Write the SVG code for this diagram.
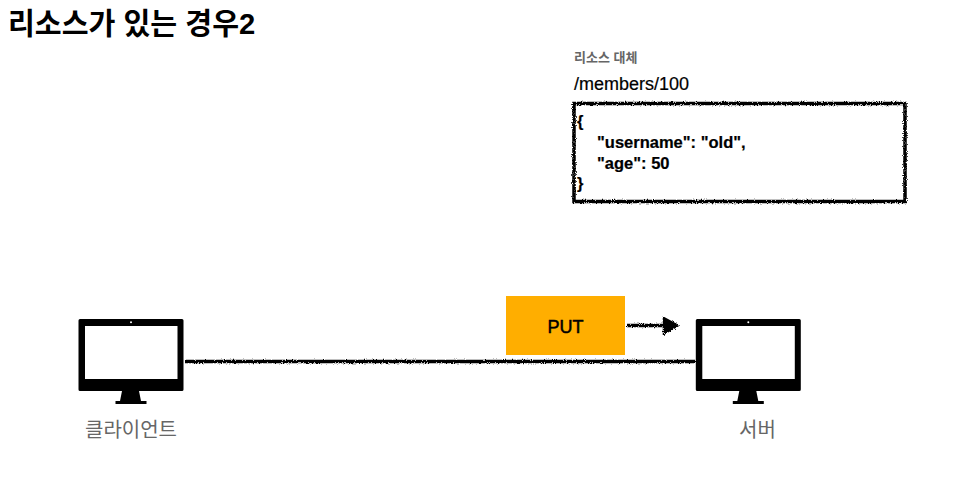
<svg xmlns="http://www.w3.org/2000/svg" width="978" height="485" viewBox="0 0 978 485">
<style>
text{font-family:"Liberation Sans","Noto Sans CJK KR",sans-serif}
.b{font-weight:700;fill:#000}
.lbl{font-size:20px;fill:#666;text-anchor:middle}
.code{font-size:16.500px;font-weight:700;fill:#000;stroke:#000;stroke-width:.2px}
</style>
<defs>
<filter id="rough2" filterUnits="userSpaceOnUse" x="0" y="0" width="978" height="485">
<feTurbulence type="fractalNoise" baseFrequency="0.9" numOctaves="3" seed="5"/>
<feDisplacementMap in="SourceGraphic" scale="3.200" xChannelSelector="R" yChannelSelector="G"/>
</filter>
<g id="monitor">
<path fill="#000" fill-rule="evenodd" d="M80 319H182a1.500 1.500 0 0 1 1.500 1.500V389.500a1.500 1.500 0 0 1-1.500 1.500H80a1.500 1.500 0 0 1-1.500-1.500V320.500a1.500 1.500 0 0 1 1.500-1.500ZM85 326V379H177.500V326Z"/>
<path fill="#000" d="M122 391H139L141 401H146.500V404H115.500V401H120Z"/>
<circle cx="131" cy="322.300" r="1" fill="#fff"/>
</g>
</defs>
<rect width="978" height="485" fill="#fff"/>
<g id="title"><text class="b" x="8" y="34" font-size="29.200">리소스가 있는 경우2</text></g>
<g id="connectors" fill="none" stroke="#000" filter="url(#rough2)">
<path stroke-width="3.500" d="M185 361.500H695"/>
<path stroke-width="3.500" d="M627 325.500H666"/>
<path fill="#000" stroke-width="1.500" d="M663.500 317.500L678.500 325.500L663.500 334.500Z"/>
</g>
<g id="resource">
<text x="574" y="62" font-size="13" font-weight="700" fill="#666">리소스 대체</text>
<text x="574" y="90" font-size="18" fill="#000" stroke="#000" stroke-width=".2">/members/100</text>
<rect x="574" y="103.500" width="331" height="98" fill="#fff" stroke="#000" stroke-width="3.500" filter="url(#rough2)"/>
<text class="code" x="577" y="127">{</text>
<text class="code" x="597" y="148">"username": "old",</text>
<text class="code" x="597" y="169">"age": 50</text>
<text class="code" x="577" y="189">}</text>
</g>
<g id="put">
<rect x="506" y="296" width="119" height="59" fill="#ffae00"/>
<text x="565.500" y="332.500" font-size="18" fill="#000" text-anchor="middle" stroke="#000" stroke-width=".5">PUT</text>
</g>
<g id="client">
<use href="#monitor"/>
<text class="lbl" x="131" y="437">클라이언트</text>
</g>
<g id="server">
<use href="#monitor" x="617.300"/>
<text class="lbl" x="757.500" y="437">서버</text>
</g>
</svg>
